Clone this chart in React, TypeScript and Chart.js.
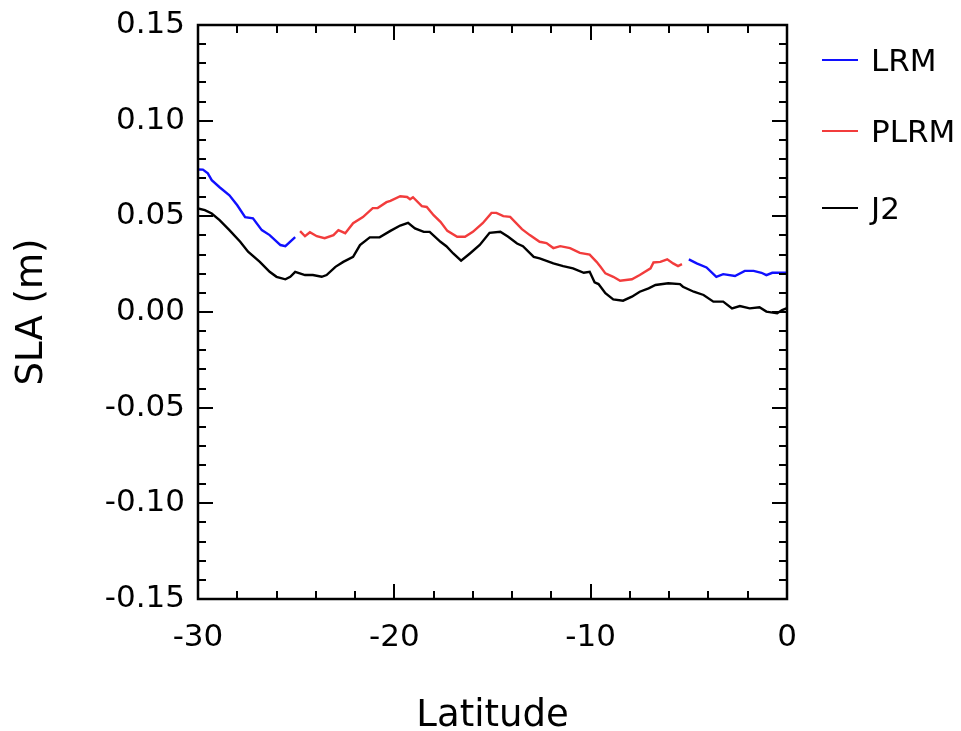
import React, { useEffect, useRef } from "react";
import { Chart, registerables } from "chart.js";

Chart.register(...registerables);

// ---- Data ----
const lrmLat = [
  -30.0, -29.75, -29.5, -29.3, -28.9, -28.4, -28.0, -27.6, -27.2, -26.75, -26.35, -25.8, -25.55, -25.05,
  null,
  -5.0, -4.6, -4.1, -3.6, -3.25, -2.65, -2.15, -1.7, -1.3, -1.05, -0.75, -0.2, 0.0,
];
const lrmSla = [
  0.0745, 0.0744, 0.0725, 0.0689, 0.0652, 0.061, 0.0558, 0.0496, 0.049, 0.0428, 0.0402, 0.035, 0.0344, 0.0391,
  null,
  0.0275, 0.0254, 0.0233, 0.0184, 0.0198, 0.0188, 0.0215, 0.0215, 0.0205, 0.0193, 0.0205, 0.0205, 0.0205,
];

const plrmLat = [
  -24.8, -24.55, -24.3, -23.95, -23.55, -23.1, -22.85, -22.5, -22.1, -21.6, -21.1, -20.85, -20.4, -20.2,
  -19.7, -19.35, -19.2, -19.05, -18.6, -18.35, -18.0, -17.65, -17.3, -16.8, -16.4, -16.0, -15.5, -15.05,
  -14.8, -14.45, -14.1, -13.5, -13.1, -12.6, -12.25, -11.9, -11.55, -11.05, -10.55, -10.05, -9.7, -9.5,
  -9.25, -8.85, -8.5, -7.9, -7.5, -6.95, -6.8, -6.45, -6.1, -5.8, -5.55, -5.35,
];
const plrmSla = [
  0.0423, 0.0396, 0.0417, 0.0396, 0.0386, 0.0402, 0.0428, 0.0412, 0.0464, 0.0496, 0.0543, 0.0543, 0.0574, 0.0581,
  0.0605, 0.0601, 0.0589, 0.06, 0.0553, 0.0549, 0.0506, 0.0471, 0.0424, 0.0393, 0.0393, 0.0419, 0.0464, 0.0518,
  0.0518, 0.0501, 0.0497, 0.0433, 0.0402, 0.0367, 0.036, 0.0334, 0.0344, 0.0334, 0.0309, 0.03, 0.0262, 0.0236,
  0.0202, 0.0184, 0.0163, 0.0171, 0.0193, 0.0228, 0.0259, 0.0262, 0.0275, 0.0254, 0.024, 0.025,
];

const j2Lat = [
  -30.0, -29.65, -29.3, -28.9, -28.4, -27.85, -27.45, -26.85, -26.35, -26.0, -25.55, -25.3, -25.05, -24.55,
  -24.15, -23.7, -23.45, -23.0, -22.6, -22.1, -21.75, -21.25, -20.75, -20.2, -19.7, -19.3, -18.95, -18.5,
  -18.2, -17.65, -17.35, -17.0, -16.6, -16.15, -15.65, -15.15, -14.6, -14.2, -13.75, -13.45, -12.9, -12.6,
  -11.9, -11.4, -10.9, -10.35, -10.05, -9.8, -9.6, -9.25, -8.85, -8.35, -7.9, -7.5, -7.05, -6.7, -6.05,
  -5.45, -5.3, -4.75, -4.25, -3.75, -3.25, -2.8, -2.4, -1.9, -1.4, -1.05, -0.5, -0.25, 0.0,
];
const j2Sla = [
  0.0541, 0.0532, 0.0515, 0.048, 0.0428, 0.0367, 0.0315, 0.0262, 0.021, 0.0184, 0.0171, 0.0184, 0.021, 0.0193,
  0.0193, 0.0184, 0.0193, 0.0236, 0.0262, 0.0288, 0.035, 0.039, 0.039, 0.0424, 0.0452, 0.0466, 0.0437, 0.0419,
  0.0419, 0.0367, 0.0344, 0.0306, 0.0268, 0.0306, 0.035, 0.0414, 0.0419, 0.0393, 0.0358, 0.0344, 0.0288, 0.028,
  0.0254, 0.024, 0.0228, 0.0205, 0.021, 0.0155, 0.0146, 0.0098, 0.0066, 0.0059, 0.008, 0.0106, 0.0124, 0.0141, 0.015,
  0.0146, 0.0132, 0.0106, 0.0089, 0.0054, 0.0054, 0.0019, 0.0031, 0.0019, 0.0025, 0.0002, -0.0007, 0.001, 0.002,
];

const seriesNames = ["LRM", "PLRM", "J2"];
const seriesColors = ["#1010ff", "#f23c3c", "#000000"];

const xMin = -30;
const xMax = 0;
const xMajorStep = 10;
const xMinorStep = 2;
const yMin = -0.15;
const yMax = 0.15;
const yMajorStep = 0.05;
const yMinorStep = 0.01;

const xTitle = "Latitude";
const yTitle = "SLA (m)";

const FONT = "'DejaVu Sans', sans-serif";

const toPoints = (xs: (number | null)[], ys: (number | null)[]) =>
  xs.map((x, i) => ({ x: x as any, y: ys[i] as any }));

const frameTicksPlugin = {
  id: "frameTicks",
  afterDatasetsDraw(chart: any) {
    const { ctx, chartArea, scales } = chart;
    const { left, right, top, bottom } = chartArea;
    const xs = scales.x;
    const ys = scales.y;
    ctx.save();
    ctx.strokeStyle = "#000";
    ctx.lineWidth = 2;
    ctx.lineCap = "butt";
    ctx.beginPath();
    const nx = Math.round((xMax - xMin) / xMinorStep);
    for (let i = 0; i <= nx; i++) {
      const v = xMin + i * xMinorStep;
      const major = Math.abs(v / xMajorStep - Math.round(v / xMajorStep)) < 1e-6;
      const len = major ? 15 : 8;
      const px = Math.round(xs.getPixelForValue(v));
      ctx.moveTo(px, bottom);
      ctx.lineTo(px, bottom - len);
      ctx.moveTo(px, top);
      ctx.lineTo(px, top + len);
    }
    const ny = Math.round((yMax - yMin) / yMinorStep);
    for (let i = 0; i <= ny; i++) {
      const v = yMin + i * yMinorStep;
      const major = Math.abs(v / yMajorStep - Math.round(v / yMajorStep)) < 1e-6;
      const len = major ? 15 : 8;
      const py = Math.round(ys.getPixelForValue(v));
      ctx.moveTo(left, py);
      ctx.lineTo(left + len, py);
      ctx.moveTo(right, py);
      ctx.lineTo(right - len, py);
    }
    ctx.stroke();
    ctx.lineWidth = 2.5;
    ctx.strokeRect(left, top, right - left, bottom - top);
    ctx.restore();
  },
};

export default function App() {
  const canvasRef = useRef<HTMLCanvasElement | null>(null);

  useEffect(() => {
    if (!canvasRef.current) return;
    const datasets = [
      { label: seriesNames[0], data: toPoints(lrmLat, lrmSla) },
      { label: seriesNames[1], data: toPoints(plrmLat, plrmSla) },
      { label: seriesNames[2], data: toPoints(j2Lat, j2Sla) },
    ].map((d, i) => ({
      ...d,
      borderColor: seriesColors[i],
      backgroundColor: seriesColors[i],
      borderWidth: 2.4,
      pointRadius: 0,
      tension: 0,
      spanGaps: false,
      fill: false,
    }));

    const chart = new Chart(canvasRef.current, {
      type: "line",
      data: { datasets },
      plugins: [frameTicksPlugin],
      options: {
        animation: false,
        responsive: false,
        maintainAspectRatio: false,
        layout: { padding: { left: 0, top: 25, right: 174, bottom: 0 } },
        plugins: { legend: { display: false }, tooltip: { enabled: false } },
        scales: {
          x: {
            type: "linear",
            min: xMin,
            max: xMax,
            afterFit: (s: any) => {
              s.height = 132;
              s.paddingLeft = 0;
              s.paddingRight = 0;
            },
            grid: { display: false, drawTicks: false },
            border: { display: false },
            ticks: {
              stepSize: xMajorStep,
              color: "#000",
              padding: 20,
              maxRotation: 0,
              font: { family: FONT, size: 31 },
              callback: (v: any) => String(Math.round(Number(v))),
            },
            title: {
              display: true,
              text: xTitle,
              color: "#000",
              font: { family: FONT, size: 37, lineHeight: 1 },
              padding: { top: 0, bottom: -4 },
            },
          },
          y: {
            type: "linear",
            min: yMin,
            max: yMax,
            afterFit: (s: any) => {
              s.width = 198;
              s.paddingTop = 0;
              s.paddingBottom = 0;
            },
            grid: { display: false, drawTicks: false },
            border: { display: false },
            ticks: {
              stepSize: yMajorStep,
              color: "#000",
              padding: 13,
              font: { family: FONT, size: 31 },
              callback: (v: any) => Number(v).toFixed(2),
            },
            title: {
              display: true,
              text: yTitle,
              color: "#000",
              font: { family: FONT, size: 37, lineHeight: 1 },
              padding: { top: 14, bottom: 0 },
            },
          },
        },
      },
    });
    return () => chart.destroy();
  }, []);

  const legendTops = [60, 131, 208];

  return (
    <div style={{ position: "absolute", left: 0, top: 0, width: 961, height: 731, background: "#fff" }}>
      <canvas ref={canvasRef} width={961} height={731} style={{ display: "block" }} />
      {seriesNames.map((name, i) => (
        <div
          key={name}
          style={{
            position: "absolute",
            left: 822,
            top: legendTops[i] - 20,
            height: 40,
            display: "flex",
            alignItems: "center",
            fontFamily: FONT,
            fontSize: 31,
            color: "#000",
            whiteSpace: "nowrap",
          }}
        >
          <span style={{ display: "inline-block", width: 36, height: 2, background: seriesColors[i], marginRight: 13 }} />
          <span>{name}</span>
        </div>
      ))}
    </div>
  );
}
